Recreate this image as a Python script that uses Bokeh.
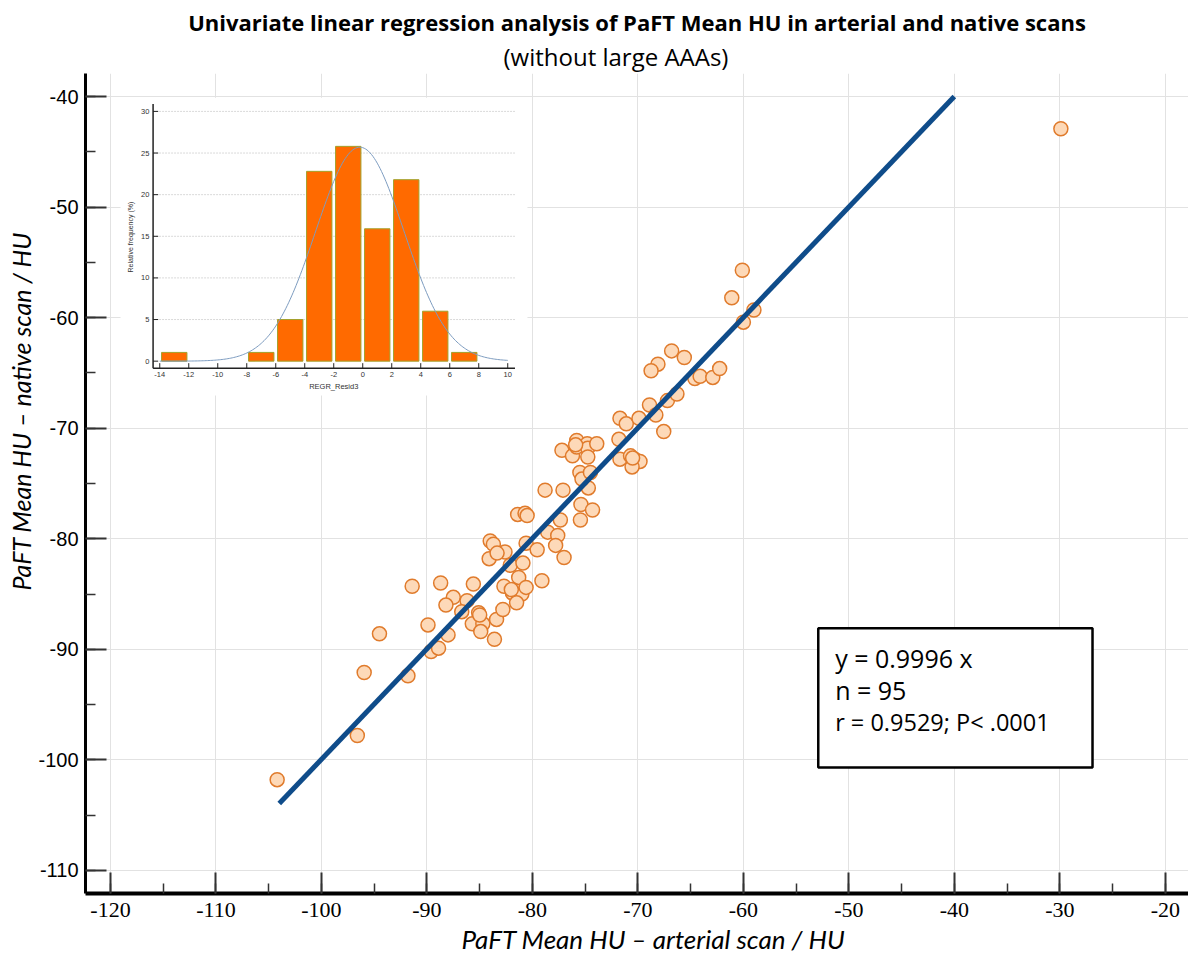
import numpy as np
from bokeh.plotting import figure
from bokeh.models import Range1d, SingleIntervalTicker, Title, Label, BoxAnnotation
from bokeh.embed import file_html
from bokeh.resources import INLINE

# ---------------- data ----------------
arterial_hu = [
    -104.2, -96.6, -95.95, -94.5, -91.8, -91.4, -89.9, -88.7, -87.5, -88.2,
    -85.6, -86.2, -86.7, -85.1, -85.7, -84.7, -84.9, -83.4, -82.8, -83.6,
    -88.0, -89.6, -88.9, -82.1, -81.3, -82.7, -81.9, -81.0, -80.6, -81.5,
    -80.9, -84.1, -78.8, -77.1, -81.4, -80.7, -80.5, -77.35, -75.45, -75.4,
    -74.3, -74.7, -75.5, -75.3, -74.5, -78.55, -77.6, -77.8, -77.0, -84.0,
    -83.7, -82.6, -83.35, -80.6, -79.55, -79.1, -71.7, -71.1, -69.9, -68.9,
    -68.3, -67.55, -67.2, -77.2, -76.2, -75.8, -75.8, -74.8, -74.75, -74.75,
    -73.9, -71.8, -71.7, -70.7, -70.3, -69.8, -70.55, -60.1, -61.1, -59.0,
    -60.0, -66.8, -65.6, -68.1, -68.75, -64.6, -64.1, -62.9, -62.25, -66.3,
    -29.9, -82.0, -75.9, -85.0, -70.5]
native_hu = [
    -101.8, -97.8, -92.1, -88.6, -92.4, -84.3, -87.8, -84.0, -85.3, -86.0,
    -84.1, -85.6, -86.6, -86.7, -87.7, -87.7, -88.4, -87.3, -86.4, -89.1,
    -88.7, -90.2, -89.9, -82.4, -83.5, -84.3, -84.9, -85.0, -84.4, -85.8,
    -82.2, -81.8, -75.6, -75.6, -77.8, -77.7, -77.9, -78.3, -78.3, -76.9,
    -77.4, -75.4, -74.0, -74.6, -74.0, -79.4, -79.7, -80.6, -81.7, -80.2,
    -80.5, -81.2, -81.3, -80.4, -81.0, -83.8, -69.1, -69.6, -69.1, -67.9,
    -68.8, -70.3, -67.5, -72.0, -72.5, -71.1, -71.7, -71.4, -71.8, -72.6,
    -71.4, -71.0, -72.8, -72.5, -72.8, -73.0, -73.5, -55.7, -58.2, -59.3,
    -60.4, -63.0, -63.6, -64.2, -64.8, -65.5, -65.3, -65.4, -64.6, -66.9,
    -42.9, -84.6, -71.5, -86.9, -72.7]

slope = 0.9996
line_x = [-104.0, -40.0]
line_y = [slope * v for v in line_x]

x_ticks = [-120, -110, -100, -90, -80, -70, -60, -50, -40, -30, -20]
x_tick_labels = ["-120", "-110", "-100", "-90", "-80", "-70", "-60", "-50", "-40", "-30", "-20"]
y_ticks = [-110, -100, -90, -80, -70, -60, -50, -40]
y_tick_labels = ["-110", "-100", "-90", "-80", "-70", "-60", "-50", "-40"]

stats_lines = ["y = 0.9996 x", "n = 95", "r = 0.9529; P< .0001"]

# residual histogram (inset)
hist_bin_centers = [-13, -7, -5, -3, -1, 1, 3, 5, 7]
hist_freq = [1.05, 1.05, 5.0, 22.8, 25.8, 15.9, 21.8, 6.0, 1.05]
hist_xticks = [-14, -12, -10, -8, -6, -4, -2, 0, 2, 4, 6, 8, 10]
hist_yticks = [0, 5, 10, 15, 20, 25, 30]
curve_mean, curve_sd, curve_peak = -0.2, 3.05, 25.7

# ---------------- main figure ----------------
p = figure(width=1188, height=961,
           x_range=Range1d(-122.37, -17.8), y_range=Range1d(-112.1, -37.9),
           output_backend="svg", toolbar_location=None,
           min_border_left=85, min_border_right=0,
           min_border_top=73, min_border_bottom=68)
p.outline_line_color = None
p.background_fill_color = "white"

p.add_layout(Title(text="(without large AAAs)", align="left", offset=418, text_font="Open Sans",
                   text_font_size="24px", text_font_style="normal", text_color="black",
                   standoff=2), "above")
p.add_layout(Title(text="Univariate linear regression analysis of PaFT Mean HU in arterial and native scans",
                   align="center", text_font="Open Sans", text_font_size="22px",
                   text_font_style="bold", text_color="black", standoff=0), "above")

# y-axis title, placed like the reference (not centred on the frame)
p.add_layout(Title(text="PaFT Mean HU \u2013 native scan / HU", align="left", offset=303,
                   text_font="Lato", text_font_style="italic", text_font_size="25px",
                   text_color="black", standoff=0), "left")

# x-axis title, placed like the reference
p.add_layout(Title(text="PaFT Mean HU \u2013 arterial scan / HU", align="left", offset=376,
                   text_font="Lato", text_font_style="italic", text_font_size="26px",
                   text_color="black", standoff=2), "below")

for ax in (p.xaxis, p.yaxis):
    ax.ticker = SingleIntervalTicker(interval=10, num_minor_ticks=2)
    ax.axis_line_color = "black"
    ax.major_tick_in = 21
    ax.major_tick_out = 0
    ax.minor_tick_in = 10
    ax.minor_tick_out = 0
    ax.major_tick_line_color = "#333333"
    ax.major_tick_line_width = 2
    ax.minor_tick_line_color = "#333333"
    ax.minor_tick_line_width = 1.5
    ax.major_label_text_color = "black"

p.xaxis.major_label_overrides = {t: s for t, s in zip(x_ticks, x_tick_labels)}
p.yaxis.major_label_overrides = {t: s for t, s in zip(y_ticks, y_tick_labels)}

p.xaxis.axis_line_width = 4
p.yaxis.axis_line_width = 3
p.xaxis.major_label_text_font = "Liberation Sans Narrow"
p.xaxis.major_label_text_font_size = "22px"
p.yaxis.major_label_text_font = "Liberation Sans"
p.yaxis.major_label_text_font_size = "20px"
p.xaxis.major_label_standoff = 9
p.yaxis.major_label_standoff = 7

p.xgrid.ticker = SingleIntervalTicker(interval=10)
p.ygrid.ticker = SingleIntervalTicker(interval=10)
p.grid.grid_line_color = "#e2e2e2"
p.grid.grid_line_width = 1

# scatter + regression line
p.scatter(arterial_hu, native_hu, size=14, fill_color="#fdd9b8", line_color="#e07b2c",
          line_width=1.5)
p.line(line_x, line_y, line_width=5, line_color="#0f4c8a")

# stats box
p.add_layout(BoxAnnotation(left=-52.9, right=-26.9, top=-88.1, bottom=-100.7,
                           fill_color="white", fill_alpha=1.0,
                           line_color="black", line_width=2.5, line_alpha=1.0))
for txt, yy, fs in zip(stats_lines, [-90.8, -93.7, -96.6], ["25px", "25px", "23.5px"]):
    p.add_layout(Label(x=-51.3, y=yy, text=txt, text_align="left", text_baseline="middle",
                       text_font="Open Sans", text_font_size=fs, text_color="black"))

# ---------------- inset histogram ----------------
p.quad(left=[-119.05], right=[-80.47], top=[-40.09], bottom=[-67.03],
       fill_color="white", line_color=None)

inset = p.subplot(x_source=Range1d(-14, 10), y_source=Range1d(0, 30),
                  x_target=Range1d(-115.33, -82.34), y_target=Range1d(-63.93, -41.33))

ax_x0, ax_y0, ax_x1, ax_y1 = -14.46, -0.84, 10.5, 30.9
inset.segment(x0=ax_x0, x1=ax_x1, y0=hist_yticks[1:], y1=hist_yticks[1:],
              line_color="#d9d9d9", line_width=1, line_dash="2 1")
inset.vbar(x=hist_bin_centers, top=hist_freq, bottom=0, width=1.75,
           fill_color="#ff6a00", line_color="#a3a12b", line_width=1)
curve_x = np.linspace(-14, 10, 241)
curve_y = curve_peak * np.exp(-0.5 * ((curve_x - curve_mean) / curve_sd) ** 2)
inset.line(curve_x, curve_y, line_color="#7d9cc0", line_width=1)

# inset axes
inset.segment(x0=[ax_x0, ax_x0], y0=[ax_y0, ax_y0], x1=[ax_x0, ax_x1], y1=[ax_y1, ax_y0],
              line_color="#222222", line_width=1.5)
inset.segment(x0=hist_xticks, x1=hist_xticks, y0=ax_y0, y1=ax_y0 + 0.6,
              line_color="#222222", line_width=1)
inset.segment(x0=ax_x0, x1=ax_x0 + 0.35, y0=hist_yticks, y1=hist_yticks,
              line_color="#222222", line_width=1)
inset.text(x=hist_xticks, y=ax_y0 - 0.5, text=[str(t) for t in hist_xticks],
           text_align="center", text_baseline="top", text_font_size="7.5px",
           text_color="#333333")
inset.text(x=ax_x0 - 0.25, y=hist_yticks, text=[str(t) for t in hist_yticks],
           text_align="right", text_baseline="middle", text_font_size="7.5px",
           text_color="#333333")
inset.text(x=[-2.0], y=[-3.1], text=["REGR_Resid3"], text_align="center",
           text_baseline="middle", text_font_size="7.5px", text_color="#333333")
inset.text(x=[-16.0], y=[14.9], text=["Relative frequency (%)"], angle=np.pi / 2,
           text_align="center", text_baseline="middle", text_font_size="7px",
           text_color="#333333")

open("out.html", "w").write(file_html(p, INLINE))
